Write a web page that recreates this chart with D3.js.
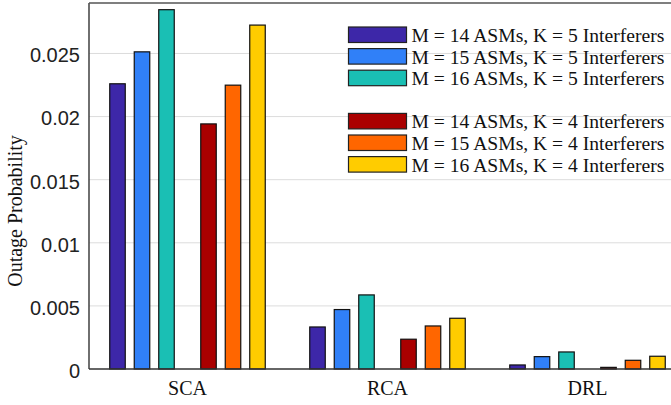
<!DOCTYPE html>
<html><head><meta charset="utf-8">
<script src="https://cdn.jsdelivr.net/npm/d3@7"></script>
<style>
html,body{margin:0;padding:0;background:#fff;}
svg{display:block;}
</style></head>
<body>
<svg id="chart" width="671" height="405"></svg>
<script>
// ---- data ----
const categories = ["SCA", "RCA", "DRL"];
const seriesLabels = [
  "M = 14 ASMs, K = 5 Interferers",
  "M = 15 ASMs, K = 5 Interferers",
  "M = 16 ASMs, K = 5 Interferers",
  "M = 14 ASMs, K = 4 Interferers",
  "M = 15 ASMs, K = 4 Interferers",
  "M = 16 ASMs, K = 4 Interferers"
];
const seriesK = ["K5", "K5", "K5", "K4", "K4", "K4"];
const seriesM = ["14", "15", "16", "14", "15", "16"];
const seriesColors = ["#3d27a8", "#3080f8", "#1abfb4", "#aa0000", "#ff6600", "#ffcc00"];
const m14k5 = [0.0226, 0.00333, 0.00032];
const m15k5 = [0.02513, 0.00471, 0.00098];
const m16k5 = [0.02847, 0.00587, 0.00135];
const m14k4 = [0.01942, 0.00236, 0.00013];
const m15k4 = [0.02249, 0.00341, 0.00069];
const m16k4 = [0.02725, 0.00402, 0.00101];
const seriesValues = [m14k5, m15k5, m16k5, m14k4, m15k4, m16k4];
const yTicks = [0, 0.005, 0.01, 0.015, 0.02, 0.025];
const yTickLabels = ["0", "0.005", "0.01", "0.015", "0.02", "0.025"];
const yTitle = "Outage Probability";

// ---- layout ----
const svg = d3.select("#chart");
const plotL = 89, plotR = 671, plotT = 3, plotB = 369;
const serif = "'Liberation Serif', 'Times New Roman', serif";
const sans = "'Liberation Sans', Arial, sans-serif";

const y = d3.scaleLinear().domain([0, 0.029]).range([plotB, plotT]);
const x = d3.scaleBand().domain(categories).range([87.5, 687.5]).padding(0);
const kScale = d3.scaleBand().domain(["K5", "K4"]).range([-91, 91]).padding(0);
const mScale = d3.scaleBand().domain(["14", "15", "16"]).range([-36.75, 36.75])
  .paddingInner(0.367).paddingOuter(0.1835);

// gridlines
svg.append("g").selectAll("line").data(yTicks.filter(d => d > 0)).join("line")
  .attr("x1", plotL).attr("x2", plotR)
  .attr("y1", d => y(d)).attr("y2", d => y(d))
  .attr("stroke", "#dcdcdc").attr("stroke-width", 1);

// bars
const barData = [];
seriesValues.forEach((vals, s) => vals.forEach((v, c) => barData.push({s, c, v})));
svg.append("g").selectAll("rect").data(barData).join("rect")
  .attr("x", d => x(categories[d.c]) + x.bandwidth() / 2 + kScale(seriesK[d.s]) + kScale.bandwidth() / 2 + mScale(seriesM[d.s]))
  .attr("width", mScale.bandwidth())
  .attr("y", d => y(d.v))
  .attr("height", d => y(0) - y(d.v))
  .attr("fill", d => seriesColors[d.s])
  .attr("stroke", "#111").attr("stroke-width", 1.2);

// y axis
const yAxis = d3.axisLeft(y).tickValues(yTicks).tickFormat((d, i) => yTickLabels[i])
  .tickSize(0).tickPadding(9);
const gy = svg.append("g").attr("transform", `translate(${plotL},0)`).call(yAxis);
gy.select(".domain").remove();
gy.selectAll("text").attr("font-family", sans).attr("font-size", 20).attr("fill", "#222").attr("dy", "0.42em");

// x axis
const xAxis = d3.axisBottom(x).tickSize(0).tickPadding(12);
const gx = svg.append("g").attr("transform", `translate(0,${plotB})`).call(xAxis);
gx.select(".domain").remove();
gx.selectAll("text").attr("font-family", serif).attr("font-size", 20).attr("fill", "#111");

// frame lines
svg.append("line").attr("x1", plotL).attr("x2", plotR).attr("y1", plotB).attr("y2", plotB)
  .attr("stroke", "#333").attr("stroke-width", 1.4);
svg.append("line").attr("x1", plotL).attr("x2", plotL).attr("y1", plotT).attr("y2", plotB)
  .attr("stroke", "#333").attr("stroke-width", 1.4);
svg.append("line").attr("x1", plotL).attr("x2", plotR).attr("y1", plotT).attr("y2", plotT)
  .attr("stroke", "#555").attr("stroke-width", 1.4);

// y title
svg.append("text").attr("transform", "translate(15,211) rotate(-90)")
  .attr("text-anchor", "middle").attr("dy", "0.35em")
  .attr("font-family", serif).attr("font-size", 20).attr("fill", "#111").text(yTitle);

// legend
const rowIndex = [0, 1, 2, 4, 5, 6];
const leg = svg.append("g").selectAll("g").data(seriesLabels).join("g")
  .attr("transform", (d, i) => `translate(348.5,${27 + rowIndex[i] * 21.6})`);
leg.append("rect").attr("width", 58).attr("height", 15.5)
  .attr("fill", (d, i) => seriesColors[i]).attr("stroke", "#222").attr("stroke-width", 1.2);
leg.append("text").attr("x", 63).attr("y", 15)
  .attr("font-family", serif).attr("font-size", 19.6).attr("fill", "#111").text(d => d);
</script>
</body></html>
